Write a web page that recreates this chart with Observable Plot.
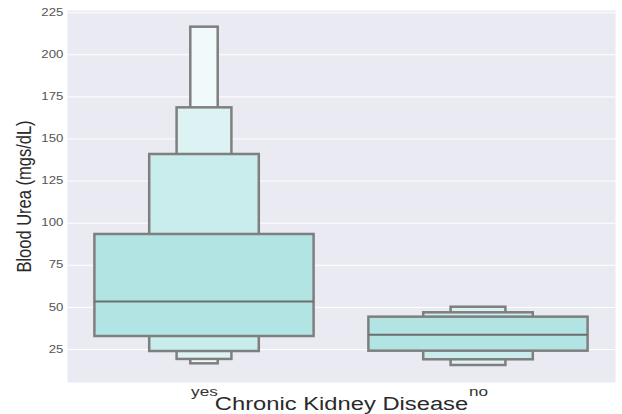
<!DOCTYPE html>
<html>
<head>
<meta charset="utf-8">
<script src="https://cdn.jsdelivr.net/npm/d3@7"></script>
<script src="https://cdn.jsdelivr.net/npm/@observablehq/plot@0.6"></script>
<style>
  body { margin: 0; background: #fff; }
  svg { font-family: "Liberation Sans", Arial, sans-serif; }
</style>
</head>
<body>
<div id="chart"></div>
<script>
// Categories
const categories = ["yes", "no"];
// Letter-value levels (lower, upper) per category, level 1 = central box
const yesLower = [32.7, 23.8, 19.1, 16.5];
const yesUpper = [93.3, 140.8, 168.5, 216.4];
const noLower = [24.0, 18.9, 15.5];
const noUpper = [44.2, 46.8, 50.1];
const medians = [53.5, 33.7];
const yTicks = [25, 50, 75, 100, 125, 150, 175, 200, 225];
const levelColors = ["#b3e4e4", "#c9ecec", "#ddf3f3", "#f1fafa"];

const boxes = [];
[[yesLower, yesUpper], [noLower, noUpper]].forEach(([lo, hi], ci) => {
  lo.forEach((v, k) => {
    const w = 0.8 / Math.pow(2, k);
    boxes.push({cat: ci, level: k, x1: ci - w / 2, x2: ci + w / 2, y1: v, y2: hi[k]});
  });
});
// draw narrow outer levels first, widest (central) box last
boxes.sort((a, b) => b.level - a.level);
const medianRows = medians.map((m, i) => ({x1: i - 0.4, x2: i + 0.4, y: m}));

const chart = Plot.plot({
  width: 622,
  height: 414,
  marginLeft: 67,
  marginRight: 7,
  marginTop: 10,
  marginBottom: 32,
  x: {domain: [-0.5, 1.5], axis: null},
  y: {domain: [5.4, 226.3], axis: null},
  marks: [
    Plot.frame({fill: "#eaeaf2", stroke: null}),
    Plot.gridY(yTicks, {stroke: "#ffffff", strokeOpacity: 1, strokeWidth: 1}),
    Plot.rect(boxes, {x1: "x1", x2: "x2", y1: "y1", y2: "y2",
      fill: d => levelColors[d.level], stroke: "#7f7f7f", strokeWidth: 2.5}),
    Plot.ruleY(medianRows, {x1: "x1", x2: "x2", y: "y", stroke: "#6e6e6e", strokeWidth: 2}),
    Plot.axisY(yTicks, {tickSize: 0, tickPadding: 4, fontSize: 10, fill: "#555", label: null,
      className: "ytick"}),
    Plot.axisX([0, 1], {tickSize: 0, tickPadding: 4, fontSize: 13, fill: "#333",
      tickFormat: i => categories[i], label: null}),
    Plot.text(["Blood Urea (mgs/dL)"], {frameAnchor: "left", dx: -43, rotate: -90,
      textAnchor: "middle", fontSize: 16.5, fill: "#2a2a2a", className: "ylabel"}),
    Plot.text(["Chronic Kidney Disease"], {frameAnchor: "bottom", dy: 27,
      fontSize: 18, fill: "#2a2a2a"})
  ]
});
document.getElementById("chart").appendChild(chart);

// the reference figure is stretched horizontally; widen every text about its anchor
d3.select(chart).selectAll("text").each(function () {
  const parent = this.parentNode;
  const g = document.createElementNS("http://www.w3.org/2000/svg", "g");
  parent.insertBefore(g, this);
  g.appendChild(this);
  const b = g.getBBox();
  const inYAxis = !!this.closest(".ytick");
  const isYLabel = !!this.closest(".ylabel");
  const sx = isYLabel ? 1.28 : 1.32;
  const cx = inYAxis ? b.x + b.width : b.x + b.width / 2;
  g.setAttribute("transform", `translate(${cx},0) scale(${sx},1) translate(${-cx},0)`);
});
</script>
</body>
</html>
